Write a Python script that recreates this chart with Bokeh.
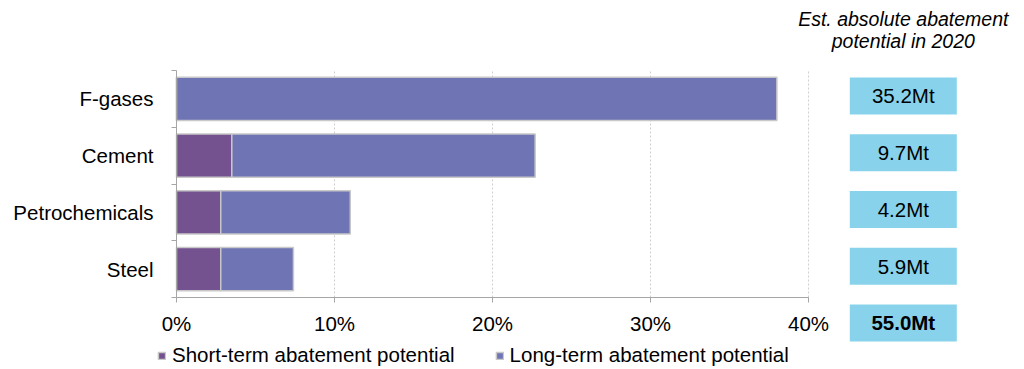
from bokeh.plotting import figure
from bokeh.models import (ColumnDataSource, Range1d, LinearAxis, FixedTicker, PrintfTickFormatter,
                          Legend, LegendItem, Label)
from bokeh.core.properties import value
from bokeh.embed import file_html
from bokeh.resources import INLINE

# ---- data ----
sectors = ["F-gases", "Cement", "Petrochemicals", "Steel"]
short_term = [0.0, 3.5, 2.8, 2.8]      # % abatement potential
long_term = [38.0, 19.2, 8.2, 4.6]     # %
abs_labels = ["35.2Mt", "9.7Mt", "4.2Mt", "5.9Mt"]
total_label = "55.0Mt"
x_ticks = [0, 10, 20, 30, 40]
header = ["Est. absolute abatement", "potential in 2020"]
legend_labels = ["Short-term abatement potential", "Long-term abatement potential"]

# ---- style / layout ----
FONT = "Liberation Sans"
FS = "20.5px"
C_SHORT = "#74528F"
C_LONG = "#6E74B4"
C_BOX = "#88D3EB"
AXIS_C = "#A6A6A6"
W, H = 1024, 369
AXIS_LEFT_PX, AXIS_TOP_PX, AXIS_BOTTOM_PX = 176, 70, 297
AXIS_PX = 632                                   # pixel length of the 0..40 % axis
n = len(sectors)
PX_X = AXIS_PX / x_ticks[-1]
PX_Y = (AXIS_BOTTOM_PX - AXIS_TOP_PX) / n
X_START, X_END = -AXIS_LEFT_PX / PX_X, (W - AXIS_LEFT_PX) / PX_X
Y_START, Y_END = -(H - AXIS_BOTTOM_PX) / PX_Y, n + AXIS_TOP_PX / PX_Y
VAL_X = 46.0                                    # value column position (% units)
BOX_SHIFT = 3 / PX_Y                            # value boxes sit slightly above bar centres
HEADER_Y = [n + 52 / PX_Y, n + 30 / PX_Y]

ypos = [n - i - 0.5 for i in range(n)]          # band centres, first sector on top
bounds = [float(i) for i in range(n + 1)]
src = ColumnDataSource(dict(y=ypos, short=short_term, long=long_term))
box_src = ColumnDataSource(dict(y=[v + BOX_SHIFT for v in ypos], lab=abs_labels, vx=[VAL_X] * n))
tot_src = ColumnDataSource(dict(y=[-0.5 + BOX_SHIFT], lab=[total_label], vx=[VAL_X]))
grid_src = ColumnDataSource(dict(x=x_ticks[1:], y0=[0] * (len(x_ticks) - 1), y1=[n] * (len(x_ticks) - 1)))

p = figure(width=W, height=H, x_range=Range1d(X_START, X_END), y_range=Range1d(Y_START, Y_END),
           output_backend="svg", toolbar_location=None,
           x_axis_location=None, y_axis_location=None,
           min_border_left=0, min_border_right=0, min_border_top=0, min_border_bottom=0)
p.outline_line_color = None
p.xgrid.grid_line_color = None
p.ygrid.grid_line_color = None

# vertical grid lines at the x ticks, within the bar area
p.segment(x0="x", y0="y0", x1="x", y1="y1", source=grid_src,
          line_color="#CFCFCF", line_dash="2 2", line_width=1)

rs = p.hbar_stack(["short", "long"], y="y", height=0.76, color=[C_SHORT, C_LONG],
                  line_color="#C8C8C8", line_width=1.5, source=src)

# x axis, fixed at y = 0
xa = LinearAxis(ticker=FixedTicker(ticks=x_ticks), formatter=PrintfTickFormatter(format="%d%%"),
                bounds=(x_ticks[0], x_ticks[-1]), fixed_location=0)
xa.axis_line_color = AXIS_C
xa.major_tick_line_color = AXIS_C
xa.major_tick_in = 0
xa.major_tick_out = 5
xa.minor_tick_line_color = None
xa.major_label_text_font = FONT
xa.major_label_text_font_size = FS
xa.major_label_text_color = "#000000"
xa.major_label_standoff = 9
p.add_layout(xa, "below")

# y axis, fixed at x = 0: labels at band centres, tick marks at band boundaries
ya = LinearAxis(ticker=FixedTicker(ticks=ypos, minor_ticks=bounds),
                major_label_overrides={y: s for y, s in zip(ypos, sectors)},
                bounds=(0, n), fixed_location=0)
ya.axis_line_color = AXIS_C
ya.major_tick_line_color = None
ya.major_tick_in = 0
ya.major_tick_out = 0
ya.minor_tick_line_color = AXIS_C
ya.minor_tick_in = 0
ya.minor_tick_out = 5
ya.major_label_text_font = FONT
ya.major_label_text_font_size = FS
ya.major_label_text_color = "#000000"
ya.major_label_standoff = 18
p.add_layout(ya, "left")

# value boxes
for s, style in ((box_src, "normal"), (tot_src, "bold")):
    p.rect(x="vx", y="y", width=107, height=37, width_units="screen", height_units="screen",
           fill_color=C_BOX, line_color=None, source=s)
    p.text(x="vx", y="y", text="lab", text_align="center", text_baseline="middle",
           text_font=value(FONT), text_font_size=FS, text_font_style=style,
           text_color="#000000", source=s)

# header
for yy, line in zip(HEADER_Y, header):
    p.add_layout(Label(x=VAL_X, y=yy, text=line, text_align="center", text_baseline="middle",
                       text_font=FONT, text_font_size="19.5px", text_font_style="italic",
                       text_color="#000000"))

legend = Legend(items=[LegendItem(label=legend_labels[0], renderers=[rs[0]]),
                       LegendItem(label=legend_labels[1], renderers=[rs[1]])],
                orientation="horizontal", location=(157, 2),
                label_text_font=FONT, label_text_font_size=FS, label_text_color="#000000",
                glyph_width=9, glyph_height=9, label_standoff=6, spacing=40,
                padding=0, margin=0, border_line_color=None, background_fill_alpha=0)
p.add_layout(legend)

open("out.html", "w").write(file_html(p, INLINE))
